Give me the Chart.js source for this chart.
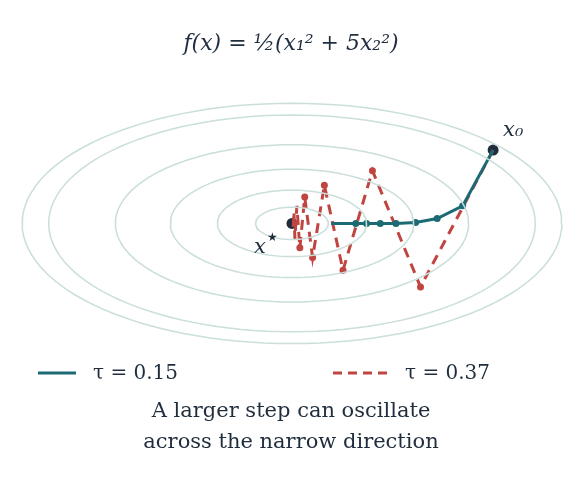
<!DOCTYPE html>
<html>
<head>
<meta charset="utf-8">
<script src="https://cdn.jsdelivr.net/npm/chart.js@4"></script>
<style>body{margin:0;background:#fff}</style>
</head>
<body>
<canvas id="myChart" width="582" height="480"></canvas>
<script>
'use strict';

// contour semi-axes along x1 (x2 semi-axis = a / sqrt(5))
const levels = [0.37, 0.76, 1.24, 1.80, 2.48, 2.75];
const smallX = [2.05, 1.74, 1.48, 1.26, 1.06, 0.90, 0.76, 0.65, 0.40];
const smallY = [0.75, 0.18, 0.05, 0.01, 0.00, 0.00, 0.00, 0.00, 0.00];
const bigX = [2.05, 1.31, 0.82, 0.52, 0.33, 0.21, 0.13, 0.08, 0.05, 0.03, 0.02, 0.01];
const bigY = [0.75, -0.65, 0.54, -0.48, 0.39, -0.35, 0.27, -0.25, 0.18, -0.16, 0.12, -0.08];

const teal = '#1c6b74';
const red = '#c0443f';
const navy = '#1f2d3d';
const serif = '"DejaVu Serif", serif';

const contours = levels.map(a => {
    const pts = [];
    for (let i = 0; i <= 120; i++) {
        const t = i / 120 * Math.PI * 2;
        pts.push({ x: a * Math.cos(t), y: a / Math.sqrt(5) * Math.sin(t) });
    }
    return {
        data: pts, borderColor: '#cadedb', borderWidth: 1.5,
        pointRadius: 0, showLine: true, fill: false
    };
});

const texts = {
    id: 'texts',
    afterDraw(chart) {
        const c = chart.ctx;
        const sx = chart.scales.x, sy = chart.scales.y;
        c.save();
        c.fillStyle = navy;
        c.textBaseline = 'middle';
        c.textAlign = 'center';
        c.font = 'italic 22px ' + serif;
        c.fillText('f(x) = ½(x₁² + 5x₂²)', 291, 44);
        c.textAlign = 'left';
        c.font = 'italic 21px ' + serif;
        c.fillText('x₀', sx.getPixelForValue(2.05) + 10, sy.getPixelForValue(0.75) - 20);
        c.fillText('x', sx.getPixelForValue(0) - 38, sy.getPixelForValue(0) + 24);
        c.font = '12px ' + serif;
        c.fillText('★', sx.getPixelForValue(0) - 25, sy.getPixelForValue(0) + 14);
        // legend
        c.lineWidth = 3;
        c.strokeStyle = teal;
        c.beginPath(); c.moveTo(38, 373); c.lineTo(76, 373); c.stroke();
        c.strokeStyle = red;
        c.setLineDash([9, 6]);
        c.beginPath(); c.moveTo(333, 373); c.lineTo(388, 373); c.stroke();
        c.setLineDash([]);
        c.font = '20px ' + serif;
        c.fillText('τ = 0.15', 93, 374);
        c.fillText('τ = 0.37', 405, 374);
        c.textAlign = 'center';
        c.font = '21px ' + serif;
        c.fillText('A larger step can oscillate', 291, 412);
        c.fillText('across the narrow direction', 291, 443);
        c.restore();
    }
};

new Chart(document.getElementById('myChart').getContext('2d'), {
    type: 'scatter',
    data: {
        datasets: contours.concat([
            {
                data: smallX.map((x, i) => ({ x: x, y: smallY[i] })),
                showLine: true, borderColor: teal, borderWidth: 3,
                pointRadius: smallX.map((x, i) => (i === 0 || i === smallX.length - 1) ? 0 : 3.5),
                pointBackgroundColor: teal, pointBorderWidth: 0
            },
            {
                data: bigX.map((x, i) => ({ x: x, y: bigY[i] })),
                showLine: true, borderColor: red, borderWidth: 3, borderDash: [10, 7],
                pointRadius: bigX.map((x, i) => (i === 0 || i > 7) ? 0 : 3.5),
                pointBackgroundColor: red, pointBorderWidth: 0
            },
            {
                data: [{ x: 2.05, y: 0.75 }, { x: 0, y: 0 }],
                pointRadius: 5.5, pointBackgroundColor: navy, pointBorderWidth: 0
            }
        ])
    },
    options: {
        responsive: false,
        animation: false,
        layout: { padding: 0 },
        plugins: { legend: { display: false }, tooltip: { enabled: false } },
        scales: {
            x: { type: 'linear', min: -2.92, max: 2.90, display: false },
            y: { type: 'linear', min: -2.57, max: 2.23, display: false }
        }
    },
    plugins: [texts]
});
</script>
</body>
</html>
